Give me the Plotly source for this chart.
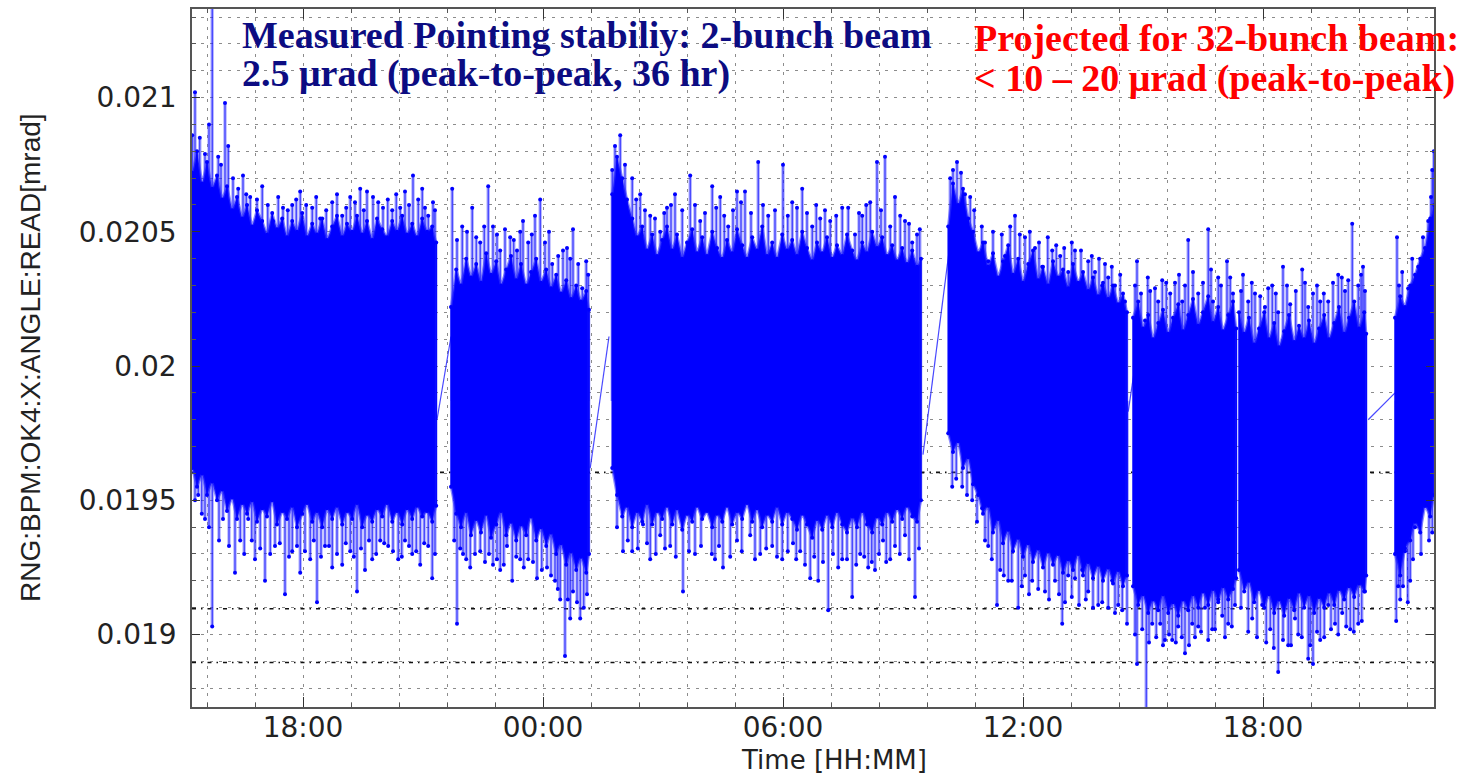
import plotly.graph_objects as go

# ---------------- data (time in hours from day-1 00:00, values in mrad) ----------------
# dense part of the noisy signal: upper / lower edge per sampled time, per recording segment
seg1_t = [15.23, 15.35, 15.48, 15.60, 15.73, 15.85, 15.98, 16.10, 16.23, 16.35, 16.48, 16.60, 16.73, 16.85, 16.98, 17.10, 17.23, 17.35, 17.48, 17.60, 17.73, 17.85, 17.98, 18.10, 18.23,
          18.35, 18.48, 18.60, 18.73, 18.85, 18.98, 19.10, 19.23, 19.35, 19.48, 19.60, 19.73, 19.85, 19.98, 20.10, 20.23, 20.35, 20.48, 20.60, 20.73, 20.85, 20.98, 21.10, 21.23, 21.33]
seg1_hi = [0.02072, 0.02080, 0.02068, 0.02076, 0.02066, 0.02071, 0.02062, 0.02067, 0.02058, 0.02063, 0.02055, 0.02060, 0.02052, 0.02058, 0.02054, 0.02049, 0.02057, 0.02051, 0.02055, 0.02048, 0.02054, 0.02050, 0.02057, 0.02048, 0.02053,
           0.02049, 0.02055, 0.02047, 0.02052, 0.02056, 0.02048, 0.02053, 0.02050, 0.02056, 0.02049, 0.02054, 0.02047, 0.02055, 0.02051, 0.02048, 0.02054, 0.02050, 0.02056, 0.02049, 0.02053, 0.02048, 0.02055, 0.02050, 0.02052, 0.02046]
seg1_lo = [0.01962, 0.01955, 0.01960, 0.01952, 0.01957, 0.01950, 0.01954, 0.01946, 0.01951, 0.01943, 0.01949, 0.01945, 0.01950, 0.01942, 0.01947, 0.01944, 0.01950, 0.01941, 0.01946, 0.01943, 0.01948, 0.01940, 0.01945, 0.01949, 0.01942,
           0.01946, 0.01940, 0.01947, 0.01943, 0.01948, 0.01941, 0.01946, 0.01943, 0.01949, 0.01940, 0.01945, 0.01942, 0.01947, 0.01944, 0.01949, 0.01942, 0.01946, 0.01941, 0.01947, 0.01943, 0.01948, 0.01944, 0.01946, 0.01942, 0.01948]

seg2_t = [21.70, 21.83, 21.95, 22.08, 22.20, 22.33, 22.45, 22.58, 22.70, 22.83, 22.95, 23.08, 23.20, 23.33, 23.45, 23.58, 23.70, 23.83, 23.95, 24.08, 24.20, 24.33, 24.45, 24.58, 24.70, 24.83, 24.95, 25.08, 25.15]
seg2_hi = [0.02022, 0.02036, 0.02030, 0.02040, 0.02033, 0.02038, 0.02031, 0.02042, 0.02034, 0.02039, 0.02030, 0.02036, 0.02041, 0.02032, 0.02038, 0.02030, 0.02035, 0.02040, 0.02031, 0.02036, 0.02029, 0.02034, 0.02027, 0.02032, 0.02025, 0.02030, 0.02024, 0.02028, 0.02021]
seg2_lo = [0.01955, 0.01945, 0.01940, 0.01946, 0.01937, 0.01943, 0.01938, 0.01945, 0.01936, 0.01941, 0.01946, 0.01937, 0.01942, 0.01935, 0.01941, 0.01937, 0.01944, 0.01935, 0.01940, 0.01933, 0.01938, 0.01930, 0.01934, 0.01926, 0.01931, 0.01924, 0.01929, 0.01923, 0.01930]

seg3_t = [25.73, 25.85, 25.98, 26.10, 26.23, 26.35, 26.48, 26.60, 26.73, 26.85, 26.98, 27.10, 27.23, 27.35, 27.48, 27.60, 27.73, 27.85, 27.98, 28.10, 28.23, 28.35, 28.48, 28.60, 28.73, 28.85, 28.98, 29.10, 29.23, 29.35, 29.48, 29.60,
          29.73, 29.85, 29.98, 30.10, 30.23, 30.35, 30.48, 30.60, 30.73, 30.85, 30.98, 31.10, 31.23, 31.35, 31.48, 31.60, 31.73, 31.85, 31.98, 32.10, 32.23, 32.35, 32.48, 32.60, 32.73, 32.85, 32.98, 33.10, 33.23, 33.35, 33.45]
seg3_hi = [0.02064, 0.02078, 0.02070, 0.02062, 0.02055, 0.02048, 0.02052, 0.02043, 0.02049, 0.02041, 0.02047, 0.02052, 0.02043, 0.02049, 0.02040, 0.02046, 0.02051, 0.02042, 0.02048, 0.02041, 0.02050, 0.02044, 0.02040, 0.02047, 0.02042, 0.02051, 0.02045, 0.02040, 0.02048, 0.02043, 0.02052, 0.02041,
           0.02046, 0.02040, 0.02049, 0.02043, 0.02047, 0.02041, 0.02050, 0.02044, 0.02039, 0.02046, 0.02042, 0.02048, 0.02040, 0.02045, 0.02041, 0.02049, 0.02043, 0.02039, 0.02046, 0.02042, 0.02050, 0.02044, 0.02048, 0.02041, 0.02045, 0.02039, 0.02044, 0.02038, 0.02043, 0.02037, 0.02040]
seg3_lo = [0.01962, 0.01952, 0.01944, 0.01948, 0.01940, 0.01946, 0.01942, 0.01949, 0.01941, 0.01946, 0.01943, 0.01948, 0.01941, 0.01947, 0.01939, 0.01945, 0.01942, 0.01948, 0.01943, 0.01946, 0.01940, 0.01945, 0.01942, 0.01948, 0.01941, 0.01946, 0.01943, 0.01949, 0.01942, 0.01947, 0.01940, 0.01945,
           0.01942, 0.01948, 0.01941, 0.01946, 0.01943, 0.01939, 0.01945, 0.01941, 0.01936, 0.01943, 0.01939, 0.01945, 0.01940, 0.01946, 0.01941, 0.01938, 0.01944, 0.01940, 0.01946, 0.01941, 0.01938, 0.01944, 0.01941, 0.01946, 0.01942, 0.01947, 0.01943, 0.01948, 0.01944, 0.01942, 0.01950]

seg4_t = [34.13, 34.25, 34.38, 34.50, 34.63, 34.75, 34.88, 35.00, 35.13, 35.25, 35.38, 35.50, 35.63, 35.75, 35.88, 36.00, 36.13, 36.25, 36.38,
          36.50, 36.63, 36.75, 36.88, 37.00, 37.13, 37.25, 37.38, 37.50, 37.63, 37.75, 37.88, 38.00, 38.13, 38.25, 38.38, 38.50, 38.60]
seg4_hi = [0.02052, 0.02068, 0.02060, 0.02066, 0.02055, 0.02050, 0.02042, 0.02046, 0.02037, 0.02042, 0.02033, 0.02039, 0.02045, 0.02034, 0.02040, 0.02031, 0.02038, 0.02043, 0.02032,
           0.02037, 0.02030, 0.02039, 0.02033, 0.02036, 0.02029, 0.02038, 0.02031, 0.02035, 0.02028, 0.02033, 0.02026, 0.02031, 0.02025, 0.02030, 0.02023, 0.02027, 0.02020]
seg4_lo = [0.01975, 0.01968, 0.01972, 0.01962, 0.01966, 0.01956, 0.01952, 0.01945, 0.01948, 0.01938, 0.01943, 0.01934, 0.01939, 0.01931, 0.01936, 0.01929, 0.01934, 0.01927, 0.01932,
           0.01925, 0.01931, 0.01926, 0.01930, 0.01923, 0.01928, 0.01924, 0.01930, 0.01922, 0.01927, 0.01921, 0.01926, 0.01920, 0.01925, 0.01919, 0.01924, 0.01918, 0.01922]

seg5_t = [38.75, 38.88, 39.00, 39.13, 39.25, 39.38, 39.50, 39.63, 39.75, 39.88, 40.00, 40.13, 40.25, 40.38, 40.50, 40.63, 40.75, 40.88, 41.00, 41.13, 41.25, 41.33]
seg5_hi = [0.02018, 0.02024, 0.02014, 0.02019, 0.02010, 0.02016, 0.02021, 0.02012, 0.02018, 0.02023, 0.02013, 0.02019, 0.02025, 0.02015, 0.02020, 0.02026, 0.02016, 0.02022, 0.02013, 0.02019, 0.02024, 0.02014]
seg5_lo = [0.01918, 0.01911, 0.01915, 0.01908, 0.01913, 0.01909, 0.01915, 0.01908, 0.01912, 0.01907, 0.01913, 0.01909, 0.01915, 0.01910, 0.01916, 0.01911, 0.01917, 0.01912, 0.01918, 0.01913, 0.01917, 0.01921]

seg6_t = [41.40, 41.53, 41.65, 41.78, 41.90, 42.03, 42.15, 42.28, 42.40, 42.53, 42.65, 42.78, 42.90, 43.03, 43.15, 43.28, 43.40, 43.53, 43.65, 43.78, 43.90, 44.03, 44.15, 44.28, 44.40, 44.53, 44.58]
seg6_hi = [0.02020, 0.02012, 0.02018, 0.02008, 0.02014, 0.02020, 0.02010, 0.02016, 0.02007, 0.02013, 0.02019, 0.02009, 0.02015, 0.02010, 0.02017, 0.02008, 0.02014, 0.02019, 0.02010, 0.02016, 0.02022, 0.02012, 0.02018, 0.02024, 0.02014, 0.02020, 0.02012]
seg6_lo = [0.01924, 0.01916, 0.01920, 0.01912, 0.01917, 0.01910, 0.01915, 0.01908, 0.01913, 0.01907, 0.01914, 0.01909, 0.01916, 0.01910, 0.01915, 0.01908, 0.01914, 0.01910, 0.01916, 0.01911, 0.01917, 0.01913, 0.01918, 0.01914, 0.01919, 0.01916, 0.01922]

seg7_t = [45.30, 45.43, 45.55, 45.68, 45.80, 45.93, 46.05, 46.18, 46.28]
seg7_hi = [0.02018, 0.02026, 0.02022, 0.02030, 0.02034, 0.02040, 0.02044, 0.02055, 0.02060]
seg7_lo = [0.01930, 0.01922, 0.01932, 0.01935, 0.01942, 0.01938, 0.01948, 0.01944, 0.01952]

# straight connecting lines across the data gaps
bridge_t = [[21.35, 21.70], [25.18, 25.65], [33.50, 34.18], [38.63, 38.78], [44.63, 45.30]]
bridge_v = [[0.01980, 0.02011], [0.01962, 0.02011], [0.01967, 0.02046], [0.01983, 0.01998], [0.01980, 0.01990]]

# large isolated excursions above the dense part
up_t = [15.23, 15.30, 15.73, 15.88, 16.05, 16.13, 16.50, 16.68, 16.98, 17.25, 17.50, 17.73, 17.93, 18.23, 18.43, 18.73, 18.98, 19.18, 19.43, 19.60, 19.88, 20.23, 20.43, 20.55, 20.75, 20.98, 21.13, 21.25,
        21.73, 21.98, 22.23, 22.43, 22.63, 22.75, 22.93, 23.18, 23.35, 23.50, 23.63, 23.80, 23.93, 24.23, 24.38, 24.60, 24.75, 24.98, 25.08,
        25.73, 25.93, 26.23, 26.43, 26.68, 26.93, 27.10, 27.30, 27.68, 27.93, 28.23, 28.43, 28.63, 28.85, 29.05, 29.38, 29.63, 30.00, 30.23, 30.48, 30.73, 30.93, 31.18, 31.48, 31.80, 31.98, 32.18, 32.35, 32.55, 32.68, 32.80, 33.05, 33.23, 33.35,
        34.18, 34.35, 34.55, 34.68, 34.88, 35.05, 35.13, 35.38, 35.55, 35.80, 36.05, 36.30, 36.48, 36.73, 36.93, 37.13, 37.30, 37.63, 37.80, 37.98, 38.13, 38.30, 38.55,
        38.85, 39.05, 39.18, 39.38, 39.58, 39.80, 39.98, 40.13, 40.38, 40.63, 40.75, 40.88, 41.10, 41.25,
        41.50, 41.63, 41.80, 42.05, 42.23, 42.38, 42.50, 42.68, 42.98, 43.13, 43.25, 43.43, 43.63, 43.88, 44.05, 44.23, 44.38, 44.50,
        45.35, 45.48, 45.63, 45.88, 46.13, 46.23, 46.27]
up_v = [0.02086, 0.02102, 0.02135, 0.02078, 0.02098, 0.02082, 0.02071, 0.02063, 0.02067, 0.02054, 0.02059, 0.02060, 0.02065, 0.02059, 0.02055, 0.02061, 0.02056, 0.02063, 0.02066, 0.02065, 0.02061, 0.02058, 0.02059, 0.02065, 0.02071, 0.02066, 0.02056, 0.02061,
        0.02066, 0.02052, 0.02059, 0.02046, 0.02067, 0.02052, 0.02043, 0.02048, 0.02043, 0.02054, 0.02046, 0.02056, 0.02062, 0.02038, 0.02041, 0.02044, 0.02051, 0.02029, 0.02039,
        0.02073, 0.02086, 0.02070, 0.02064, 0.02056, 0.02050, 0.02059, 0.02064, 0.02071, 0.02054, 0.02067, 0.02063, 0.02052, 0.02065, 0.02065, 0.02076, 0.02056, 0.02075, 0.02061, 0.02066, 0.02052, 0.02055, 0.02054, 0.02059, 0.02049, 0.02056, 0.02061, 0.02076, 0.02078, 0.02052, 0.02063, 0.02054, 0.02046, 0.02049,
        0.02070, 0.02076, 0.02064, 0.02063, 0.02041, 0.02046, 0.02039, 0.02031, 0.02041, 0.02056, 0.02048, 0.02044, 0.02037, 0.02043, 0.02041, 0.02035, 0.02043, 0.02039, 0.02035, 0.02030, 0.02033, 0.02030, 0.02024,
        0.02039, 0.02017, 0.02028, 0.02024, 0.02031, 0.02031, 0.02024, 0.02047, 0.02027, 0.02051, 0.02024, 0.02033, 0.02039, 0.02027,
        0.02034, 0.02024, 0.02027, 0.02022, 0.02030, 0.02020, 0.02037, 0.02023, 0.02036, 0.02022, 0.02027, 0.02024, 0.02024, 0.02034, 0.02028, 0.02053, 0.02030, 0.02037,
        0.02048, 0.02035, 0.02029, 0.02037, 0.02054, 0.02073, 0.02080]

# large isolated excursions below the dense part
dn_t = [15.38, 15.55, 15.73, 16.00, 16.30, 16.43, 16.63, 16.80, 17.05, 17.30, 17.55, 17.73, 17.93, 18.18, 18.35, 18.55, 18.73, 18.98, 19.18, 19.35, 19.55, 19.73, 19.93, 20.13, 20.38, 20.55, 20.73, 20.93, 21.13, 21.23,
        21.85, 22.00, 22.18, 22.43, 22.75, 22.93, 23.10, 23.23, 23.43, 23.63, 23.85, 24.10, 24.30, 24.43, 24.55, 24.68, 24.75, 24.93, 25.10,
        26.00, 26.23, 26.50, 26.68, 26.93, 27.18, 27.50, 27.80, 28.13, 28.30, 28.50, 28.85, 29.18, 29.43, 29.73, 29.98, 30.25, 30.43, 30.68, 30.88, 31.13, 31.48, 31.73, 31.93, 32.13, 32.30, 32.50, 32.68, 32.80, 33.05, 33.30,
        34.23, 34.48, 34.73, 34.98, 35.13, 35.35, 35.43, 35.63, 35.88, 36.05, 36.23, 36.55, 36.80, 36.98, 37.13, 37.30, 37.48, 37.63, 37.88, 38.13, 38.23, 38.38, 38.60,
        38.85, 38.98, 39.08, 39.23, 39.43, 39.55, 39.73, 39.88, 40.05, 40.23, 40.38, 40.55, 40.73, 40.88, 40.98, 41.13, 41.30,
        41.55, 41.73, 41.98, 42.18, 42.38, 42.63, 42.80, 42.88, 43.13, 43.25, 43.43, 43.63, 43.80, 43.98, 44.18, 44.38, 44.55,
        45.38, 45.43, 45.55, 45.68, 45.80, 46.05, 46.23]
dn_v = [0.01952, 0.01943, 0.01903, 0.01943, 0.01923, 0.01935, 0.01943, 0.01928, 0.01920, 0.01933, 0.01915, 0.01931, 0.01923, 0.01928, 0.01912, 0.01933, 0.01925, 0.01926, 0.01931, 0.01916, 0.01924, 0.01928, 0.01935, 0.01933, 0.01928, 0.01935, 0.01930, 0.01926, 0.01933, 0.01921,
        0.01904, 0.01930, 0.01925, 0.01931, 0.01926, 0.01924, 0.01933, 0.01920, 0.01928, 0.01928, 0.01921, 0.01925, 0.01920, 0.01913, 0.01892, 0.01906, 0.01916, 0.01906, 0.01915,
        0.01931, 0.01931, 0.01941, 0.01928, 0.01937, 0.01933, 0.01916, 0.01930, 0.01947, 0.01928, 0.01925, 0.01935, 0.01937, 0.01930, 0.01933, 0.01928, 0.01934, 0.01931, 0.01921, 0.01920, 0.01909, 0.01928, 0.01914, 0.01930, 0.01925, 0.01924, 0.01935, 0.01928, 0.01933, 0.01937, 0.01914,
        0.01955, 0.01955, 0.01950, 0.01947, 0.01933, 0.01911, 0.01924, 0.01920, 0.01910, 0.01922, 0.01920, 0.01916, 0.01920, 0.01904, 0.01922, 0.01921, 0.01924, 0.01916, 0.01911, 0.01910, 0.01920, 0.01911, 0.01904,
        0.01889, 0.01902, 0.01870, 0.01904, 0.01904, 0.01898, 0.01898, 0.01903, 0.01893, 0.01904, 0.01903, 0.01910, 0.01902, 0.01913, 0.01907, 0.01904, 0.01911,
        0.01920, 0.01906, 0.01911, 0.01902, 0.01886, 0.01896, 0.01906, 0.01900, 0.01891, 0.01889, 0.01898, 0.01911, 0.01904, 0.01908, 0.01902, 0.01904, 0.01916,
        0.01918, 0.01913, 0.01931, 0.01920, 0.01940, 0.01948, 0.01938]

# medium excursions above the dense part
mid_up_t = [15.42, 15.55, 15.65, 15.95, 16.25, 16.38, 16.58, 16.85, 17.12, 17.38, 17.62, 17.83, 18.08, 18.33, 18.58, 18.85, 19.08, 19.30, 19.52, 19.75, 20.00, 20.12, 20.33, 20.65, 20.88, 21.05, 21.30,
            21.85, 22.10, 22.33, 22.53, 22.85, 23.05, 23.27, 23.43, 23.72, 24.05, 24.15, 24.50, 24.68, 24.88, 25.13,
            25.80, 26.05, 26.33, 26.55, 26.80, 27.03, 27.20, 27.48, 27.80, 28.05, 28.33, 28.53, 28.75, 28.95, 29.20, 29.50, 29.80, 30.12, 30.35, 30.60, 30.83, 31.05, 31.33, 31.63, 31.90, 32.08, 32.45, 32.93, 33.15, 33.42,
            34.25, 34.45, 34.78, 34.97, 35.25, 35.47, 35.68, 35.92, 36.17, 36.40, 36.62, 36.83, 37.03, 37.22, 37.45, 37.72, 37.90, 38.05, 38.22, 38.43,
            38.80, 38.95, 39.12, 39.30, 39.48, 39.68, 39.90, 40.05, 40.25, 40.50, 40.70, 40.95, 41.18,
            41.45, 41.72, 41.93, 42.13, 42.32, 42.60, 42.82, 43.05, 43.35, 43.52, 43.75, 43.97, 44.13, 44.45, 44.55,
            45.40, 45.73, 46.00, 46.20]
mid_up_v = [0.02085, 0.02079, 0.02090, 0.02075, 0.02070, 0.02066, 0.02064, 0.02062, 0.02060, 0.02063, 0.02058, 0.02062, 0.02060, 0.02063, 0.02058, 0.02064, 0.02059, 0.02061, 0.02058, 0.02063, 0.02059, 0.02062, 0.02064, 0.02060, 0.02062, 0.02059, 0.02058,
            0.02047, 0.02050, 0.02048, 0.02052, 0.02049, 0.02051, 0.02047, 0.02050, 0.02049, 0.02046, 0.02050, 0.02043, 0.02040, 0.02038, 0.02034,
            0.02082, 0.02075, 0.02062, 0.02058, 0.02055, 0.02057, 0.02060, 0.02058, 0.02060, 0.02057, 0.02059, 0.02056, 0.02058, 0.02061, 0.02057, 0.02060, 0.02058, 0.02056, 0.02059, 0.02057, 0.02060, 0.02058, 0.02056, 0.02059, 0.02057, 0.02060, 0.02058, 0.02056, 0.02053, 0.02051,
            0.02073, 0.02072, 0.02058, 0.02052, 0.02050, 0.02049, 0.02052, 0.02049, 0.02050, 0.02046, 0.02048, 0.02045, 0.02044, 0.02046, 0.02043, 0.02041, 0.02040, 0.02038, 0.02037, 0.02034,
            0.02030, 0.02027, 0.02033, 0.02029, 0.02032, 0.02027, 0.02034, 0.02030, 0.02035, 0.02031, 0.02036, 0.02030, 0.02033,
            0.02028, 0.02031, 0.02026, 0.02029, 0.02027, 0.02030, 0.02028, 0.02031, 0.02030, 0.02027, 0.02031, 0.02033, 0.02032, 0.02034, 0.02028,
            0.02030, 0.02040, 0.02048, 0.02063]

# medium excursions below the dense part
mid_dn_t = [15.30, 15.47, 15.65, 15.90, 16.15, 16.53, 16.72, 16.93, 17.18, 17.42, 17.65, 17.85, 18.05, 18.27, 18.45, 18.65, 18.85, 19.07, 19.27, 19.45, 19.65, 19.83, 20.03, 20.25, 20.47, 20.65, 20.83, 21.03, 21.30,
            21.78, 21.93, 22.08, 22.30, 22.55, 22.65, 22.85, 23.02, 23.33, 23.52, 23.75, 23.97, 24.20, 24.37, 24.62, 24.85, 25.02,
            25.85, 26.12, 26.37, 26.60, 26.82, 27.05, 27.32, 27.65, 27.95, 28.22, 28.40, 28.68, 28.97, 29.30, 29.58, 29.85, 30.12, 30.33, 30.55, 30.78, 31.00, 31.25, 31.38, 31.60, 31.83, 32.03, 32.22, 32.40, 32.58, 32.92, 33.15, 33.40,
            34.33, 34.60, 34.85, 35.05, 35.22, 35.52, 35.72, 35.97, 36.15, 36.38, 36.65, 36.90, 37.05, 37.22, 37.40, 37.57, 37.75, 37.98, 38.30, 38.48,
            38.80, 39.15, 39.33, 39.50, 39.65, 39.82, 39.97, 40.15, 40.30, 40.45, 40.63, 40.80, 41.05, 41.22,
            41.45, 41.63, 41.85, 42.08, 42.27, 42.50, 42.70, 42.97, 43.18, 43.35, 43.53, 43.70, 43.88, 44.08, 44.27, 44.47,
            45.33, 45.50, 45.62, 45.75, 45.95, 46.15]
mid_dn_v = [0.01950, 0.01945, 0.01940, 0.01935, 0.01933, 0.01930, 0.01935, 0.01932, 0.01930, 0.01934, 0.01929, 0.01933, 0.01931, 0.01935, 0.01929, 0.01933, 0.01930, 0.01934, 0.01929, 0.01932, 0.01935, 0.01930, 0.01934, 0.01931, 0.01929, 0.01933, 0.01931, 0.01934, 0.01930,
            0.01935, 0.01932, 0.01928, 0.01930, 0.01927, 0.01930, 0.01928, 0.01926, 0.01929, 0.01925, 0.01927, 0.01924, 0.01922, 0.01917, 0.01913, 0.01912, 0.01910,
            0.01940, 0.01935, 0.01932, 0.01934, 0.01930, 0.01932, 0.01929, 0.01931, 0.01933, 0.01930, 0.01933, 0.01929, 0.01931, 0.01928, 0.01932, 0.01929, 0.01931, 0.01928, 0.01926, 0.01929, 0.01927, 0.01930, 0.01925, 0.01928, 0.01926, 0.01929, 0.01927, 0.01930, 0.01927, 0.01930, 0.01928, 0.01932,
            0.01958, 0.01952, 0.01942, 0.01935, 0.01928, 0.01922, 0.01920, 0.01918, 0.01915, 0.01917, 0.01913, 0.01915, 0.01912, 0.01914, 0.01911, 0.01913, 0.01910, 0.01912, 0.01908, 0.01909,
            0.01900, 0.01897, 0.01899, 0.01896, 0.01900, 0.01897, 0.01899, 0.01896, 0.01899, 0.01901, 0.01898, 0.01902, 0.01899, 0.01903,
            0.01910, 0.01901, 0.01899, 0.01897, 0.01895, 0.01898, 0.01896, 0.01899, 0.01896, 0.01901, 0.01899, 0.01902, 0.01900, 0.01903, 0.01901, 0.01905,
            0.01905, 0.01918, 0.01912, 0.01928, 0.01930, 0.01935]

x_tickvals = [18, 24, 30, 36, 42]
x_ticktext = ["18:00", "00:00", "06:00", "12:00", "18:00"]
y_tickvals = [0.019, 0.0195, 0.020, 0.0205, 0.021]
y_ticktext = ["0.019", "0.0195", "0.02", "0.0205", "0.021"]
ref_lines = [0.019604, 0.019096, 0.018896]

# ---------------- styling constants ----------------
BLUE = "#0000ff"
SPIKE_BASE = 0.01987   # lies inside the dense part of every segment
X_RANGE = [15.225, 46.275]
Y_RANGE = [0.01873, 0.02133]
W, H = 1468, 776
ML, MR, MT, MB = 192, 34, 7, 69
PW, PH = W - ML - MR, H - MT - MB


def px_to_paper(px, py):
    return (px - ML) / PW, (H - MB - py) / PH


def columns(ts, lows, highs):
    xs, ys = [], []
    for t, lo, hi in zip(ts, lows, highs):
        xs += [t, t, None]
        ys += [lo, hi, None]
    return xs, ys


fig = go.Figure()

# excursions: soft halo + thin core line (drawn first so the dense part covers their roots)
spike_sets = [(up_t, up_v), (dn_t, dn_v), (mid_up_t, mid_up_v), (mid_dn_t, mid_dn_v)]
for ts, vs in spike_sets:
    sx, sy = columns(ts, [SPIKE_BASE] * len(ts), vs)
    fig.add_trace(go.Scatter(x=sx, y=sy, mode="lines", line=dict(color="rgba(70,70,255,0.40)", width=3.5),
                             hoverinfo="skip", showlegend=False))
    fig.add_trace(go.Scatter(x=sx, y=sy, mode="lines", line=dict(color="rgba(0,0,255,0.85)", width=1),
                             hoverinfo="skip", showlegend=False))

# gap-bridging lines
for bt, bv in zip(bridge_t, bridge_v):
    fig.add_trace(go.Scatter(x=bt, y=bv, mode="lines", line=dict(color="rgba(40,40,255,0.85)", width=1.2),
                             hoverinfo="skip", showlegend=False))

# dense part: jagged filled envelope with a soft edge, plus thin strokes and sample dots
segments = [(seg1_t, seg1_lo, seg1_hi), (seg2_t, seg2_lo, seg2_hi), (seg3_t, seg3_lo, seg3_hi),
            (seg4_t, seg4_lo, seg4_hi), (seg5_t, seg5_lo, seg5_hi), (seg6_t, seg6_lo, seg6_hi),
            (seg7_t, seg7_lo, seg7_hi)]
for t, lo, hi in segments:
    fig.add_trace(go.Scatter(x=t + t[::-1], y=hi + lo[::-1], fill="toself", fillcolor=BLUE,
                             mode="lines", line=dict(color="rgba(50,50,255,0.55)", width=2.5),
                             hoverinfo="skip", showlegend=False))
    cx, cy = columns(t, lo, hi)
    fig.add_trace(go.Scatter(x=cx, y=cy, mode="lines", line=dict(color=BLUE, width=1.5),
                             hoverinfo="skip", showlegend=False))
    fig.add_trace(go.Scatter(x=t + t, y=hi + lo, mode="markers", marker=dict(color=BLUE, size=4),
                             hoverinfo="skip", showlegend=False))

# tip markers of the excursions
for ts, vs in spike_sets:
    fig.add_trace(go.Scatter(x=ts, y=vs, mode="markers", marker=dict(color=BLUE, size=4),
                             hoverinfo="skip", showlegend=False))

# extra black dotted reference lines
for v in ref_lines:
    fig.add_shape(type="line", xref="paper", x0=0, x1=1, yref="y", y0=v, y1=v,
                  line=dict(color="#111111", width=1.6, dash="4px,5px,1.5px,5px"), layer="below")

GRID = "#8c8c8c"
TICKFONT = dict(family="DejaVu Sans", size=28, color="#222222")

fig.update_xaxes(range=X_RANGE, tickmode="array", tickvals=x_tickvals, ticktext=x_ticktext,
                 ticks="inside", ticklen=10, tickwidth=1.2, tickcolor="#333333",
                 showline=True, linecolor="#555555", linewidth=1.5, mirror="allticks",
                 showgrid=True, gridcolor=GRID, griddash="3px,6px", gridwidth=1,
                 zeroline=False, tickfont=TICKFONT, ticklabelstandoff=-5,
                 minor=dict(tickmode="linear", tick0=0, dtick=1.2, ticks="inside", ticklen=4,
                            tickcolor="#555555", showgrid=True, gridcolor=GRID, griddash="3px,6px"))
fig.update_yaxes(range=Y_RANGE, tickmode="array", tickvals=y_tickvals, ticktext=y_ticktext,
                 ticks="inside", ticklen=8, tickwidth=1.2, tickcolor="#333333",
                 showline=True, linecolor="#555555", linewidth=1.5, mirror="allticks",
                 showgrid=True, gridcolor=GRID, griddash="3px,6px", gridwidth=1,
                 zeroline=False, tickfont=TICKFONT, ticklabelstandoff=8,
                 minor=dict(tickmode="linear", tick0=0, dtick=0.0001, ticks="inside", ticklen=4,
                            tickcolor="#555555", showgrid=True, gridcolor=GRID, griddash="3px,6px"))

ann = []
x0, y0 = px_to_paper(240, 33)
ann.append(dict(x=x0, y=y0, text="Measured Pointing stabiliy: 2-bunch beam"))
x0, y0 = px_to_paper(240, 72)
ann.append(dict(x=x0, y=y0, text="2.5 μrad (peak-to-peak, 36 hr)"))
for a in ann:
    a.update(xref="paper", yref="paper", xanchor="left", yanchor="middle", showarrow=False,
             font=dict(family="Liberation Serif", size=38, color="#0c0c82", weight="bold"))
red = []
x0, y0 = px_to_paper(972, 36)
red.append(dict(x=x0, y=y0, text="Projected for 32-bunch beam:"))
x0, y0 = px_to_paper(972, 77)
red.append(dict(x=x0, y=y0, text="&lt; 10 – 20 μrad (peak-to-peak)"))
for a in red:
    a.update(xref="paper", yref="paper", xanchor="left", yanchor="middle", showarrow=False,
             font=dict(family="Liberation Serif", size=38, color="#ff0000", weight="bold"))
ann += red

xt, yt = px_to_paper(834, 760)
ann.append(dict(x=xt, y=yt, xref="paper", yref="paper", xanchor="center", yanchor="middle",
                showarrow=False, text="Time [HH:MM]",
                font=dict(family="DejaVu Sans", size=26, color="#222222")))
xt, yt = px_to_paper(30, 357)
ann.append(dict(x=xt, y=yt, xref="paper", yref="paper", xanchor="center", yanchor="middle",
                showarrow=False, textangle=-90, text="RNG:BPM:OK4:X:ANGLE:READ[mrad]",
                font=dict(family="Liberation Sans", size=28, color="#222222")))

fig.update_layout(width=W, height=H, margin=dict(l=ML, r=MR, t=MT, b=MB),
                  paper_bgcolor="white", plot_bgcolor="white", showlegend=False,
                  annotations=ann)

fig.write_html("out.html")
